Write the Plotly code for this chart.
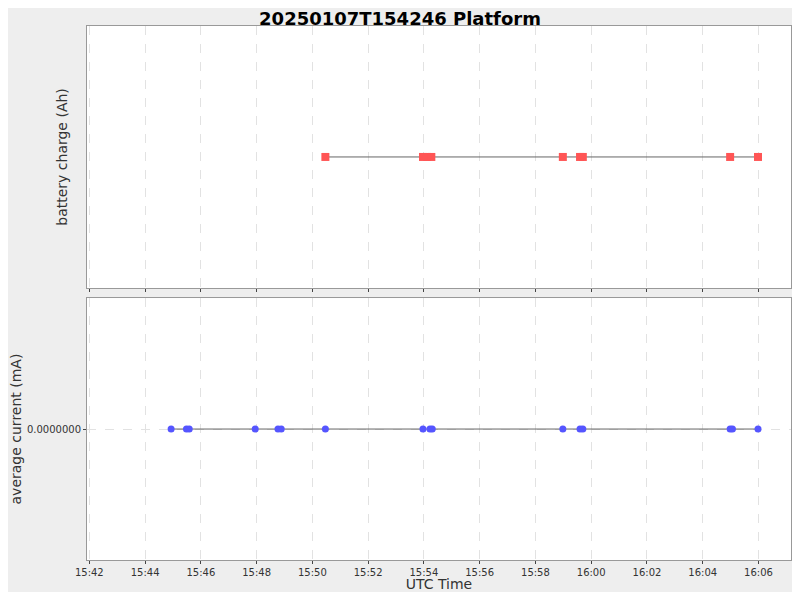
import plotly.graph_objects as go
from plotly.subplots import make_subplots

# sample times (UTC)
battery_times = ['2025-01-07 15:50:28', '2025-01-07 15:53:58', '2025-01-07 15:54:07',
                 '2025-01-07 15:54:16', '2025-01-07 15:58:59', '2025-01-07 15:59:36',
                 '2025-01-07 15:59:42', '2025-01-07 16:04:59', '2025-01-07 16:05:59']
battery_charge = [0.0] * len(battery_times)

current_times = ['2025-01-07 15:44:56', '2025-01-07 15:45:29', '2025-01-07 15:45:35',
                 '2025-01-07 15:47:57', '2025-01-07 15:48:46', '2025-01-07 15:48:53',
                 '2025-01-07 15:50:28', '2025-01-07 15:53:58', '2025-01-07 15:54:13',
                 '2025-01-07 15:54:18', '2025-01-07 15:58:59', '2025-01-07 15:59:36',
                 '2025-01-07 15:59:42', '2025-01-07 16:04:59', '2025-01-07 16:05:04',
                 '2025-01-07 16:05:59']
avg_current = [0.0] * len(current_times)

fig = make_subplots(rows=2, cols=1, shared_xaxes=True, vertical_spacing=0.019)

fig.add_trace(go.Scatter(x=battery_times, y=battery_charge, mode='lines+markers',
                         line=dict(color='#666666', width=1),
                         marker=dict(symbol='square', color='#ff5555', size=8)),
              row=1, col=1)
fig.add_trace(go.Scatter(x=current_times, y=avg_current, mode='lines+markers',
                         line=dict(color='#666666', width=1),
                         marker=dict(symbol='circle', color='#5555ff', size=7)),
              row=2, col=1)

grid = dict(showgrid=True, gridcolor='#e2e2e2', griddash='dash', gridwidth=1,
            showline=True, linecolor='#999999', mirror=True, zeroline=False,
            automargin=False)

fig.update_xaxes(range=['2025-01-07 15:41:55', '2025-01-07 16:07:10'],
                 dtick=120000, tickformat='%H:%M', ticks='outside', ticklen=3,
                 tickfont=dict(size=10), **grid)
fig.update_xaxes(title_text='UTC Time', title_standoff=4, row=2, col=1)
fig.update_yaxes(range=[-1, 1], tickvals=[0], showticklabels=False, showgrid=False,
                 title_text='battery charge (Ah)', row=1, col=1,
                 **{k: v for k, v in grid.items() if k != 'showgrid'})
fig.update_yaxes(range=[-1, 1], tickvals=[0], ticktext=['0.0000000'],
                 tickfont=dict(size=10), ticks='outside', ticklen=3,
                 title_text='average current (mA)', row=2, col=1, **grid)

# page body adds an 8px margin, so the figure is shrunk to fit the window
fig.update_layout(
    width=784, height=584,
    title=dict(text='<b>20250107T154246 Platform</b>', x=0.5, y=0.992, yanchor='top',
               font=dict(size=18, color='black')),
    font=dict(family='DejaVu Sans', size=12, color='#333333'),
    paper_bgcolor='#eeeeee', plot_bgcolor='white',
    showlegend=False,
    margin=dict(l=79, r=1, t=18, b=32),
)

fig.write_html("out.html")
